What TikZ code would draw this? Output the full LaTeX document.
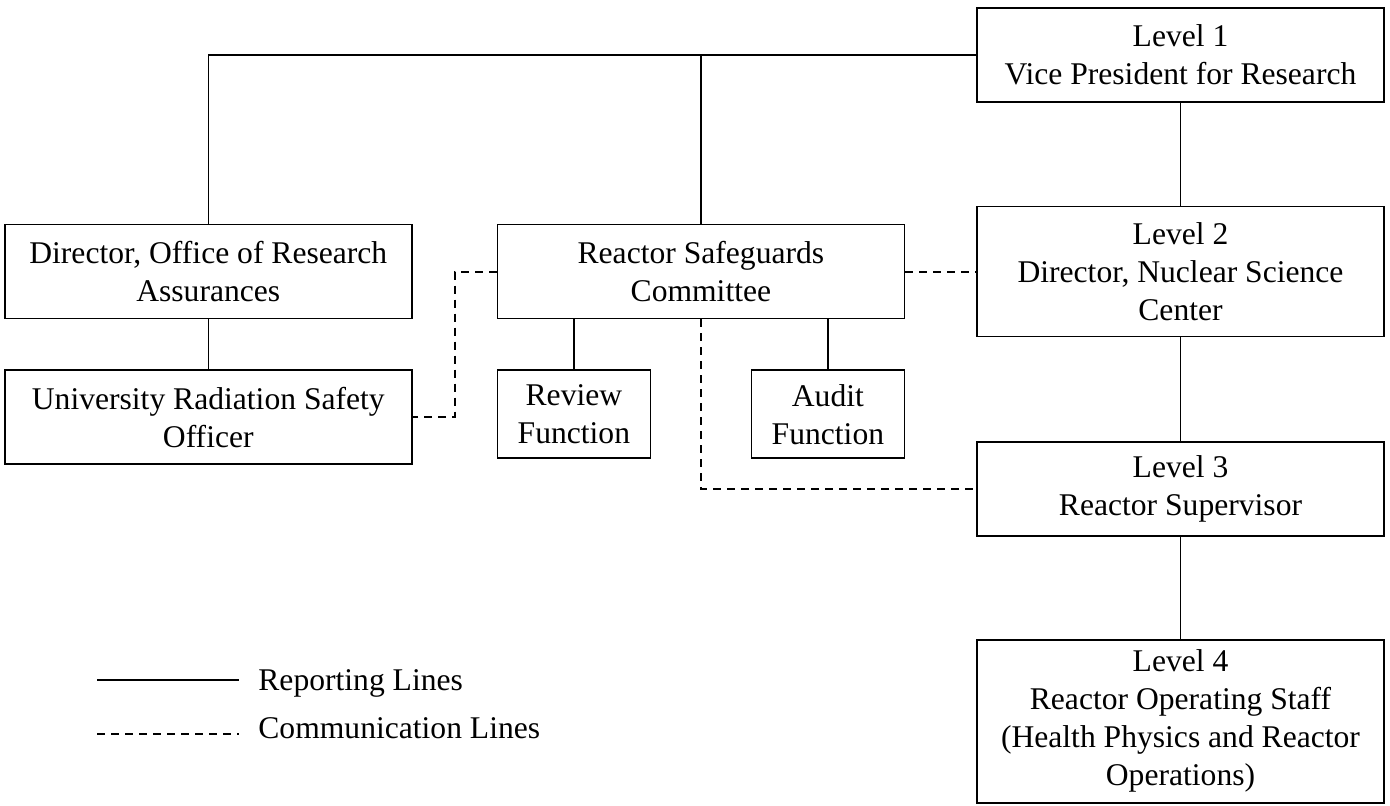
\documentclass[tikz,border=0pt]{standalone}
\usepackage{fontspec}
\setmainfont{Liberation Serif}
\usetikzlibrary{positioning}

\begin{document}
\begin{tikzpicture}[
    x=0.5pt, y=-0.5pt,
    font=\fontsize{15.8}{19}\selectfont,
    box/.style={draw, line width=0.8pt, minimum width=203.5pt, minimum height=47pt, inner sep=2pt, align=center},
    fnbox/.style={box, minimum width=76.5pt, minimum height=44pt},
    report/.style={draw, line width=0.7pt},
    comm/.style={draw, line width=1pt, dash pattern=on 4pt off 3pt},
  ]
    \useasboundingbox (0,0) rectangle (1390,806);
    \node[box] (lv1) at (1180.5,55) {Level 1\\Vice President for Research};
    \node[box, minimum height=65pt, below=51.5pt of lv1] (lv2) {Level 2\\Director, Nuclear Science\\Center};
    \node[box, below=52pt of lv2] (lv3) {Level 3\\Reactor Supervisor};
    \node[box, minimum height=81.5pt, below=51pt of lv3] (lv4) {Level 4\\Reactor Operating Staff\\(Health Physics and Reactor\\Operations)};
    \node[box, left=35.5pt of lv2] (rsc) {Reactor Safeguards\\Committee};
    \node[box, left=42pt of rsc] (ora) {Director, Office of Research\\Assurances};
    \node[box, below=25pt of ora] (rso) {University Radiation Safety\\Officer};
    \node[fnbox, below=25pt of rsc.south west, anchor=north west] (rev) {Review\\Function};
    \node[fnbox, below=25pt of rsc.south east, anchor=north east] (aud) {Audit\\Function};
    \draw[report] (lv1.west) -| (ora.north);
    \draw[report] (rsc.north) -- (rsc.north |- lv1.west);
    \draw[report] (lv1) -- (lv2); \draw[report] (lv2) -- (lv3); \draw[report] (lv3) -- (lv4);
    \draw[report] (ora) -- (rso);
    \draw[report] (rev) -- (rev |- rsc.south); \draw[report] (aud) -- (aud |- rsc.south);
    \draw[comm] (rsc.west) -- ++(-21pt,0) |- (rso.east);
    \draw[comm] (rsc.east) -- (rsc.east -| lv2.west);
    \draw[comm] (rsc.south) |- (lv3.west);
    \node[anchor=base west, inner sep=0pt] (replbl) at (258,690) {Reporting Lines};
    \node[anchor=base west, inner sep=0pt] (comlbl) at (258,738) {Communication Lines};
    \coordinate (repA) at (97,680); \coordinate (repB) at (239,680);
    \coordinate (comA) at (97,734); \coordinate (comB) at (239,734);
    \draw[report] (repA) -- (repB);
    \draw[comm] (comA) -- (comB);
  \end{tikzpicture}
\end{document}
